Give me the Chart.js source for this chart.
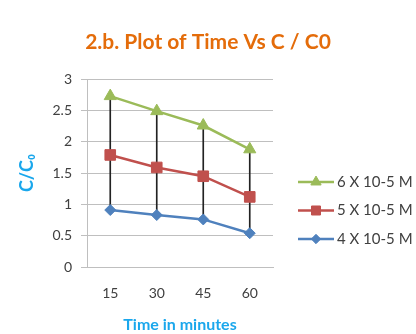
<!DOCTYPE html>
<html><head><meta charset="utf-8">
<script src="https://cdn.jsdelivr.net/npm/chart.js@4.4.1/dist/chart.umd.min.js"></script>
<style>html,body{margin:0;padding:0;background:#fff;} canvas{display:block;}</style>
</head><body>
<canvas id="c" width="416" height="334"></canvas>
<script>
// ---- data ----
const categories = ['15', '30', '45', '60'];
const series6 = [2.73, 2.49, 2.26, 1.88];
const series5 = [1.79, 1.59, 1.45, 1.12];
const series4 = [0.91, 0.83, 0.76, 0.54];
const seriesLabels = ['6 X 10-5 M', '5 X 10-5 M', '4 X 10-5 M'];
const yTickValues = [0, 0.5, 1, 1.5, 2, 2.5, 3];

// ---- styles ----
const FONT = "Lato, 'Open Sans', 'DejaVu Sans', sans-serif";
const GREEN = '#9BBB59', RED = '#C0504D', BLUE = '#4F81BD';
const GRID = '#BFBFBF', TEXT = '#404040', AXIS_TITLE = '#1AA7EC';

const hiLow = categories.map((_, i) => {
  const v = [series6[i], series5[i], series4[i]];
  return [Math.min(...v), Math.max(...v)];
});

const mk = (label, data, color, style, radius) => ({
  type: 'line', label, data,
  borderColor: color, backgroundColor: color,
  borderWidth: 2.5, tension: 0,
  pointStyle: style, pointRadius: radius, pointBorderWidth: 1,
  pointBackgroundColor: color, pointBorderColor: color,
  order: 1, yAxisID: 'y'
});

const datasets = [
  mk(seriesLabels[0], series6, GREEN, 'triangle', 7),
  mk(seriesLabels[1], series5, RED, 'rect', 7.5),
  mk(seriesLabels[2], series4, BLUE, 'rectRot', 5.5),
  { type: 'bar', label: 'hilow', data: hiLow, backgroundColor: '#222', borderWidth: 0,
    barThickness: 1, order: 10, yAxisID: 'y' }
];

const sideLegend = {
  id: 'sideLegend',
  afterDraw(chart) {
    const ctx = chart.ctx;
    const items = chart.data.datasets.filter(d => d.type === 'line');
    const x0 = chart.chartArea.right + 25, lineW = 36;
    const yStart = 182, step = 28.5;
    ctx.save();
    items.forEach((d, i) => {
      const y = yStart + i * step;
      ctx.strokeStyle = d.borderColor; ctx.fillStyle = d.backgroundColor;
      ctx.lineWidth = 2.5;
      ctx.beginPath(); ctx.moveTo(x0, y); ctx.lineTo(x0 + lineW, y); ctx.stroke();
      ctx.lineWidth = 1;
      Chart.helpers.drawPoint(ctx, { pointStyle: d.pointStyle, radius: d.pointRadius * 0.85, borderWidth: 1, rotation: 0 }, x0 + lineW / 2, y);
      ctx.fillStyle = TEXT;
      ctx.font = '15px ' + FONT;
      ctx.textBaseline = 'middle'; ctx.textAlign = 'left';
      ctx.fillText(d.label, x0 + lineW + 3, y);
    });
    ctx.restore();
  }
};

new Chart(document.getElementById('c'), {
  type: 'line',
  data: { labels: categories, datasets },
  plugins: [sideLegend],
  options: {
    responsive: false, animation: false,
    layout: { padding: 0 },
    plugins: {
      legend: { display: false },
      tooltip: { enabled: false },
      title: { display: true, text: '2.b. Plot of Time Vs C / C0', color: '#E46C0A',
        font: { family: FONT, size: 21, weight: 'bold' }, padding: { top: 30, bottom: 24 } }
    },
    scales: {
      x: {
        type: 'category', offset: true,
        grid: { display: false, drawTicks: false },
        border: { display: true, color: GRID },
        ticks: { color: TEXT, font: { family: FONT, size: 14 }, padding: 18 },
        title: { display: true, text: 'Time in minutes', color: AXIS_TITLE,
          font: { family: FONT, size: 16, weight: 'bold' }, padding: { top: 0, bottom: 0 } },
        afterFit: (s) => { s.height = 67; }
      },
      y: {
        min: 0, max: 3,
        afterBuildTicks: (s) => { s.ticks = yTickValues.map(v => ({ value: v })); },
        ticks: { color: TEXT, font: { family: FONT, size: 14 }, padding: 9, callback: (v) => String(v) },
        grid: { color: GRID, tickLength: 6, tickColor: GRID },
        border: { color: GRID },
        title: { display: true, text: 'C/C₀', color: AXIS_TITLE,
          font: { family: FONT, size: 18, weight: 'bold' }, padding: { top: 16, bottom: 0 } },
        afterFit: (s) => { s.width = 87; }
      },
      yPad: {
        position: 'right', display: true,
        grid: { display: false, drawTicks: false }, border: { display: false },
        ticks: { display: false },
        afterFit: (s) => { s.width = 143; }
      }
    }
  }
});
</script>
</body></html>
